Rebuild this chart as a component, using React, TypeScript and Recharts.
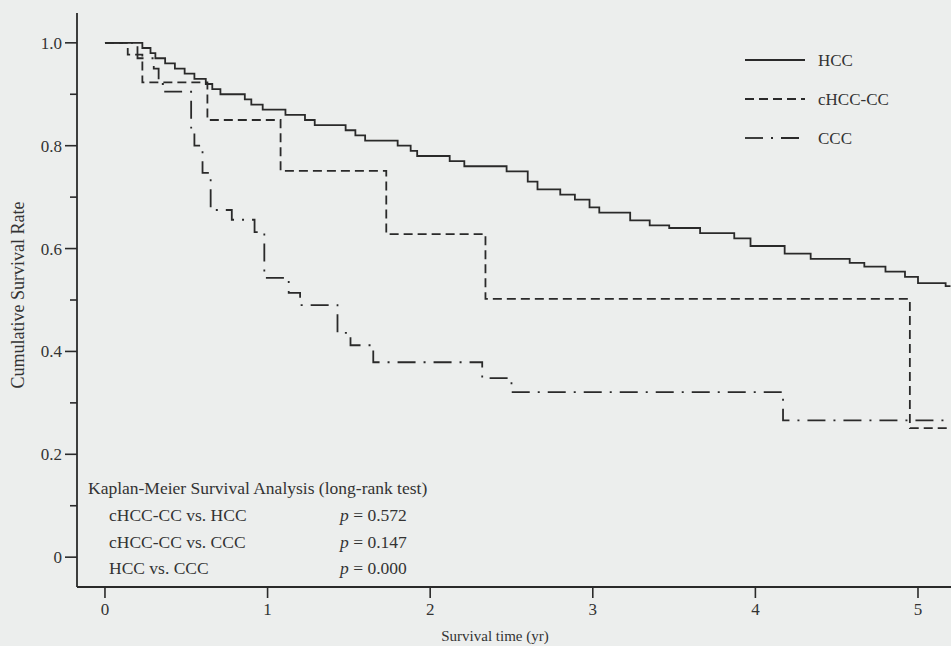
import { Legend, Line, LineChart, XAxis, YAxis } from 'recharts';

// Kaplan-Meier step curves (time in years, survival rate)
const hccTime = [
  0, 0.23, 0.28, 0.31, 0.37, 0.43, 0.49, 0.55, 0.62, 0.66, 0.71, 0.86, 0.9, 0.97, 1.11, 1.23,
  1.29, 1.48, 1.54, 1.6, 1.8, 1.88, 1.92, 2.12, 2.21, 2.47, 2.6, 2.66, 2.8, 2.89, 2.98, 3.04,
  3.23, 3.35, 3.47, 3.66, 3.87, 3.97, 4.18, 4.34, 4.58, 4.67, 4.8, 4.92, 5.0, 5.17, 5.2,
];
const hccSurv = [
  1.0, 0.99, 0.98, 0.97, 0.96, 0.95, 0.94, 0.93, 0.92, 0.91, 0.9, 0.89, 0.88, 0.87, 0.86, 0.85,
  0.84, 0.83, 0.82, 0.81, 0.8, 0.79, 0.78, 0.77, 0.76, 0.75, 0.73, 0.715, 0.705, 0.695, 0.68, 0.67,
  0.655, 0.645, 0.64, 0.63, 0.62, 0.605, 0.59, 0.58, 0.572, 0.565, 0.555, 0.545, 0.533, 0.527, 0.527,
];

const mixTime = [0, 0.14, 0.23, 0.63, 1.08, 1.73, 2.34, 4.95, 5.2];
const mixSurv = [1.0, 0.977, 0.923, 0.85, 0.751, 0.628, 0.502, 0.251, 0.251];

const cccTime = [
  0, 0.2, 0.3, 0.33, 0.37, 0.53, 0.55, 0.6, 0.65, 0.78, 0.92, 0.98, 1.13, 1.2, 1.43, 1.51, 1.65,
  2.32, 2.5, 4.17, 5.2,
];
const cccSurv = [
  1.0, 0.97, 0.95, 0.92, 0.905, 0.835, 0.8, 0.747, 0.675, 0.656, 0.632, 0.543, 0.514, 0.49, 0.436,
  0.412, 0.379, 0.348, 0.321, 0.266, 0.266,
];

const xTicks = [0, 1, 2, 3, 4, 5];
const yTicks = [0, 0.1, 0.2, 0.3, 0.4, 0.5, 0.6, 0.7, 0.8, 0.9, 1.0];

const testLabels = ['cHCC-CC vs. HCC', 'cHCC-CC vs. CCC', 'HCC vs. CCC'];
const testP = ['0.572', '0.147', '0.000'];

const seriesNames = ['HCC', 'cHCC-CC', 'CCC'];
const seriesDash = ['', '9 5', '18 8 2 8'];

const toRows = (t: number[], s: number[]) => t.map((v, i) => ({ t: v, s: s[i] }));
const seriesData = [toRows(hccTime, hccSurv), toRows(mixTime, mixSurv), toRows(cccTime, cccSurv)];

const INK = '#2a2a2a';
const TEXT = '#333333';
const FONT = '"Liberation Serif", "DejaVu Serif", serif';

function YTick(props: any) {
  const { x, y, payload } = props;
  const v: number = payload.value;
  const major = Math.round(v * 10) % 2 === 0;
  const ax = x + 15;
  return (
    <g>
      <line x1={ax - (major ? 12 : 7)} x2={ax} y1={y} y2={y} stroke={INK} strokeWidth={1.6} />
      {major && (
        <text x={ax - 15} y={y} dy="0.35em" textAnchor="end" fill={TEXT} fontSize={17} fontFamily={FONT}>
          {v === 0 ? '0' : v.toFixed(1)}
        </text>
      )}
    </g>
  );
}

function LegendBox() {
  return (
    <svg width={200} height={120}>
      {seriesNames.map((name, i) => {
        const y = 20 + i * 39;
        return (
          <g key={name}>
            <line x1={5} x2={65} y1={y} y2={y} stroke={INK} strokeWidth={1.8} strokeDasharray={seriesDash[i] || undefined} />
            <text x={78} y={y} dy="0.35em" fill={TEXT} fontSize={17} fontFamily={FONT}>
              {name}
            </text>
          </g>
        );
      })}
    </svg>
  );
}

export default function App() {
  return (
    <div style={{ position: 'absolute', left: 0, top: 0, width: 951, height: 646, background: '#eceeed' }}>
      <LineChart width={951} height={646} margin={{ top: 13, right: 0, bottom: 0, left: 0 }}>
        <XAxis
          dataKey="t"
          type="number"
          domain={[-0.172, 5.203]}
          allowDataOverflow
          ticks={xTicks}
          interval={0}
          height={59}
          tickSize={11}
          tickMargin={5}
          axisLine={{ stroke: INK, strokeWidth: 1.8 }}
          tickLine={{ stroke: INK, strokeWidth: 1.6 }}
          tick={{ fill: TEXT, fontSize: 17, fontFamily: FONT }}
        />
        <YAxis
          type="number"
          domain={[-0.058, 1.058]}
          allowDataOverflow
          ticks={yTicks}
          interval={0}
          width={77}
          tickSize={12}
          tickMargin={3}
          tickLine={false}
          axisLine={{ stroke: INK, strokeWidth: 1.8 }}
          tick={<YTick />}
        />
        {seriesData.map((rows, i) => (
          <Line
            key={seriesNames[i]}
            data={rows}
            dataKey="s"
            name={seriesNames[i]}
            type="stepAfter"
            stroke={INK}
            strokeWidth={1.8}
            strokeDasharray={seriesDash[i] || undefined}
            dot={false}
            activeDot={false}
            isAnimationActive={false}
          />
        ))}
        <Legend
          layout="vertical"
          align="center"
          verticalAlign="middle"
          wrapperStyle={{ position: 'absolute', left: 740, top: 40, width: 200, height: 120 }}
          content={() => <LegendBox />}
        />
        <g fontFamily={FONT} fill={TEXT}>
          <text x={495} y={641} fontSize={15} textAnchor="middle">
            Survival time (yr)
          </text>
          <text
            x={18}
            y={295}
            fontSize={18}
            textAnchor="middle"
            dominantBaseline="central"
            transform="rotate(-90, 18, 295)"
          >
            Cumulative Survival Rate
          </text>
        </g>
        <g fontFamily={FONT} fontSize={17.5} fill={TEXT}>
          <text x={88} y={494}>Kaplan-Meier Survival Analysis (long-rank test)</text>
          {testLabels.map((lab, i) => (
            <g key={lab}>
              <text x={109} y={521 + i * 26.5}>{lab}</text>
              <text x={340} y={521 + i * 26.5}>
                <tspan fontStyle="italic">p</tspan> = {testP[i]}
              </text>
            </g>
          ))}
        </g>
      </LineChart>
    </div>
  );
}
